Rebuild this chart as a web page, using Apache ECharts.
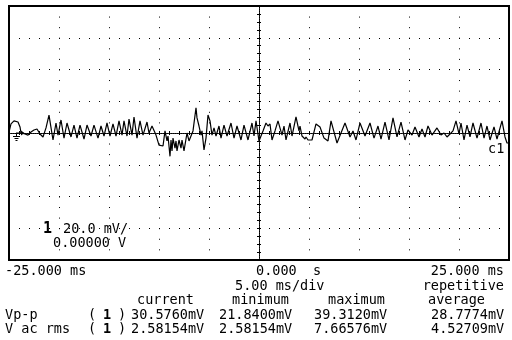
<!DOCTYPE html>
<html>
<head>
<meta charset="utf-8">
<script src="https://cdn.jsdelivr.net/npm/echarts@6/dist/echarts.min.js"></script>
<style>
  html, body { margin: 0; padding: 0; background: #fff; }
  #scope { width: 512px; height: 340px; }
</style>
</head>
<body>
<div id="scope"></div>
<script>
// Channel 1 trace vertices: time (ms) and amplitude (mV)
const traceTimeMs = [
  -25.0, -24.8, -24.5, -24.1, -23.9, -23.8, -23.4, -23.1, -22.8, -22.5,
  -22.2, -21.9, -21.6, -21.3, -21.0,
  -20.6, -20.3, -20.1, -19.8, -19.5, -19.2, -18.8, -18.5, -18.2, -17.9,
  -17.5, -17.2, -16.8, -16.5, -16.1, -15.8, -15.5, -15.2, -14.9, -14.6,
  -14.3, -14.0, -13.7, -13.5, -13.2, -13.0, -12.7, -12.5, -12.2,
  -11.9, -11.6, -11.2, -11.0, -10.7, -10.3, -10.0, -9.6, -9.4, -9.2,
  -9.1, -8.9, -8.8, -8.7, -8.6, -8.4, -8.3, -8.2, -8.0, -7.8,
  -7.7, -7.5, -7.2, -7.0, -6.8, -6.6, -6.3, -6.2, -6.0, -5.8,
  -5.7, -5.5, -5.3, -5.1, -4.9, -4.7, -4.5, -4.3, -4.0, -3.8,
  -3.5, -3.2, -2.8, -2.5, -2.2, -1.8, -1.5, -1.1, -0.7, -0.5,
  -0.3, 0.0,
  0.4, 0.7, 0.9, 1.1, 1.3, 1.6, 1.9, 2.3, 2.5, 2.7,
  3.1, 3.3, 3.7, 4.0, 4.1, 4.3, 4.6, 4.7, 4.9, 5.1,
  5.3, 5.5, 5.7, 6.1, 6.5, 6.9, 7.2, 7.8,
  8.6, 9.1, 9.4, 9.7, 10.1, 10.6, 11.1, 11.5, 11.9, 12.2,
  12.6, 13.0, 13.4, 13.8, 14.2, 14.6, 14.9, 15.3, 15.6, 16.0,
  16.3, 16.6, 16.9, 17.3, 17.8, 18.2, 18.5, 18.8, 19.1, 19.4,
  19.7, 20.0, 20.2, 20.5, 20.8, 21.1, 21.4, 21.8, 22.2, 22.5,
  22.8, 23.1, 23.5, 23.8, 24.3, 24.6, 24.8, 25.0
];
const traceMv = [
  0.6, 5.7, 7.6, 6.9, 3.8, 0, -0.6, -1.3, 0.6, 1.9,
  2.5, -0.6, -2.5, 3.2, 11.3,
  -4.4, 6.3, -1.3, 8.2, -3.2, 6.3, -2.5, 5.0, -3.2, 5.0,
  -3.8, 5.0, -1.9, 5.0, -3.2, 4.4, -1.9, 6.3, -1.9, 5.7,
  -1.9, 7.6, -1.3, 7.6, -1.9, 8.8, -1.3, 10.1, -3.2,
  7.6, -1.3, 6.9, 0, 4.4, -1.3, -7.6, -8.2, 1.3, -5.0,
  -1.9, -14.7, -4.4, -11.3, -3.2, -9.5, -5.0, -11.3, -4.4, -9.5,
  -4.4, -11.3, 0, -5.0, -1.9, 1.3, 15.9, 9.5, 4.4, -1.3,
  1.3, -10.7, -3.2, 11.3, 7.6, -1.3, 3.2, -1.9, 4.4, -3.2,
  5.0, -1.9, 6.3, -3.2, 4.4, -4.4, 5.0, -4.4, 6.3, -1.9,
  7.6, -5.0,
  1.3, 6.3, 4.4, 5.7, -4.4, 1.3, 7.6, -1.3, 4.4, -4.4,
  6.3, -1.9, 10.1, 1.3, 4.4, -1.9, -3.8, -2.5, -4.4, -3.2,
  -4.4, -3.2, 5.7, 3.8, -3.2, -5.0, 7.6, -6.3,
  6.3, -2.5, 1.3, -4.4, 6.3, -1.9, 6.3, -3.2, 4.4, -3.8,
  6.9, -4.4, 9.5, -2.5, 6.9, -4.4, 1.9, -1.3, 3.8, -2.5,
  2.5, -2.5, 4.4, -1.3, 3.2, -1.3, 0, -2.5, -0.6, 1.3,
  7.6, -0.6, 6.3, -4.4, 5.0, -2.5, 6.3, -3.2, 6.3, -3.2,
  4.4, -4.4, 3.8, -3.8, 7.6, -2.5, -6.3, -6.3
];

// Screen scales: 10 divisions of 5 ms, 8 divisions of 20 mV
const timeRange = [-25, 25];
const timeStepMs = 5;
const voltRange = [-80, 80];
const voltStepMv = 20;

// Readout texts
const timeLabels = ['-25.000 ms', '0.000  s', '25.000 ms'];
const timebaseLabel = '5.00 ms/div';
const acquireMode = 'repetitive';
const measureHeads = ['current', 'minimum', 'maximum', 'average'];
const measureNames = ['Vp-p', 'V ac rms'];
const vppValues = ['30.5760mV', '21.8400mV', '39.3120mV', '28.7774mV'];
const vrmsValues = ['2.58154mV', '2.58154mV', '7.66576mV', '4.52709mV'];
const channelScale = ['20.0 mV/', '0.00000 V'];
const channelId = '1';
const traceTag = 'c1';

const MONO = '"DejaVu Sans Mono", "Liberation Mono", monospace';
const FONT = '13.5px ' + MONO;
const BOLD_SMALL = 'bold 13.5px ' + MONO;
const BOLD_BIG = 'bold 15px ' + MONO;

function txt(text, x, y, align, font) {
  return {
    type: 'text', x: x, y: y, silent: true,
    style: {
      text: text, font: font || FONT, fill: '#000',
      textAlign: align || 'left', textVerticalAlign: 'middle',
      align: align || 'left', verticalAlign: 'middle'
    }
  };
}

function timeAxis(position, withGrid) {
  return {
    type: 'value', min: timeRange[0], max: timeRange[1], interval: timeStepMs,
    position: position,
    axisLine: { show: true, onZero: true, onZeroAxisIndex: 0,
      lineStyle: { color: '#000', width: 1, type: [1, 1] } },
    axisTick: { show: true, inside: false, length: 2, lineStyle: { color: '#000', width: 1 } },
    minorTick: { show: true, splitNumber: 5, length: 2, lineStyle: { color: '#000', width: 1 } },
    axisLabel: { show: false },
    splitLine: { show: withGrid, lineStyle: { color: '#000', width: 1, type: [1, 9.58] } }
  };
}

function voltAxis(position, withGrid) {
  return {
    type: 'value', min: voltRange[0], max: voltRange[1], interval: voltStepMv,
    position: position,
    axisLine: { show: true, onZero: true, onZeroAxisIndex: 0,
      lineStyle: { color: '#000', width: 1, type: [1, 1] } },
    axisTick: { show: true, inside: false, length: 2, lineStyle: { color: '#000', width: 1 } },
    minorTick: { show: true, splitNumber: 4, length: 2, lineStyle: { color: '#000', width: 1 } },
    axisLabel: { show: false },
    splitLine: { show: withGrid, lineStyle: { color: '#000', width: 1, type: [1, 9] } }
  };
}

// Ground reference marker: arrow plus earth symbol
const groundPath = 'path://M3,4.5h6v1h-6z M8,2.5L11.5,5L8,7.5z M3,5h1v3h-1z ' +
  'M0,8h7v1h-7z M1.5,10h4v1h-4z M2.5,12h2v1h-2z';

const valueCols = [131, 219, 314, 431];
const headCols = [137, 232, 328, 428];
const rowY = [271, 286, 300, 315, 329];

const graphics = [
  txt(timeLabels[0], 5, rowY[0]),
  txt(timeLabels[1], 256, rowY[0]),
  txt(timeLabels[2], 504, rowY[0], 'right'),
  txt(timebaseLabel, 235, rowY[1]),
  txt(acquireMode, 504, rowY[1], 'right'),
  txt(channelId, 43, 229, 'left', BOLD_BIG),
  txt(channelScale[0], 63, 229),
  txt(channelScale[1], 53, 243),
  txt(traceTag, 488, 149)
];
measureHeads.forEach((h, i) => graphics.push(txt(h, headCols[i], rowY[2])));
[vppValues, vrmsValues].forEach((vals, r) => {
  const y = rowY[3 + r];
  graphics.push(txt(measureNames[r], 5, y));
  graphics.push(txt('(', 88, y));
  graphics.push(txt(channelId, 103, y, 'left', BOLD_SMALL));
  graphics.push(txt(')', 118, y));
  vals.forEach((v, i) => graphics.push(txt(v, valueCols[i], y)));
});

const chart = echarts.init(document.getElementById('scope'), null, { renderer: 'canvas' });
chart.setOption({
  animation: false,
  backgroundColor: '#fff',
  grid: { left: 9, top: 6, width: 500, height: 254, show: true,
    borderColor: '#000', borderWidth: 2, backgroundColor: '#fff' },
  xAxis: [timeAxis('bottom', true), timeAxis('top', false)],
  yAxis: [voltAxis('left', true), voltAxis('right', false)],
  series: [{
    type: 'line',
    xAxisIndex: 0, yAxisIndex: 0,
    data: traceTimeMs.map((t, i) => [t, traceMv[i]]),
    showSymbol: false, symbol: 'none',
    lineStyle: { color: '#000', width: 1.2 },
    z: 5,
    markPoint: {
      silent: true,
      data: [{
        coord: [timeRange[0], 0],
        symbol: groundPath, symbolSize: [11.5, 10.5], symbolOffset: [9.75, 2.75],
        itemStyle: { color: '#000' }, label: { show: false }
      }]
    }
  }],
  graphic: graphics
});
</script>
</body>
</html>
